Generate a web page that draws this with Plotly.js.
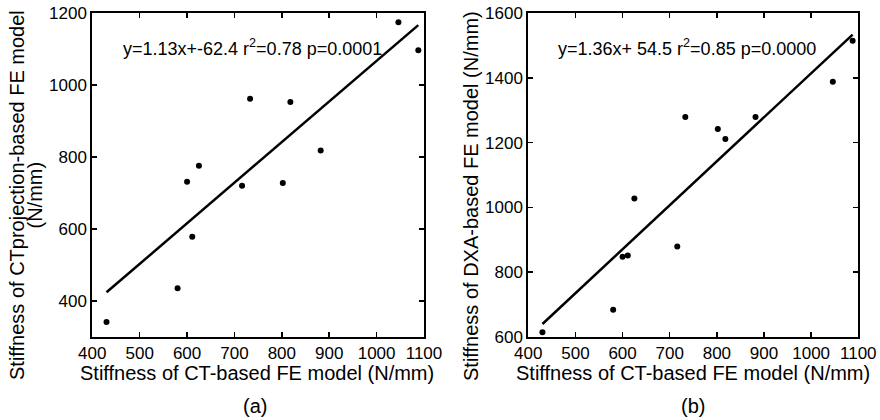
<!DOCTYPE html>
<html>
<head>
<meta charset="utf-8">
<script src="https://cdn.plot.ly/plotly-3.0.1.min.js"></script>
<style>html,body{margin:0;padding:0;background:#fff;}#chart{width:880px;height:420px;}</style>
</head>
<body>
<div id="chart"></div>
<script>
// ---- data ----
const ctStiffness     = [430, 580, 600, 611, 625, 716, 733, 802, 818, 882, 1046, 1088];
const ctProjStiffness = [341, 435, 731, 578, 776, 720, 962, 728, 953, 818, 1175, 1097];
const dxaStiffness    = [614, 683, 847, 851, 1027, 879, 1279, 1242, 1211, 1279, 1388, 1515];
const fitA = {slope: 1.13, intercept: -62.4, label: 'y=1.13x+-62.4 r<sup>2</sup>=0.78 p=0.0001'};
const fitB = {slope: 1.36, intercept: 54.5,  label: 'y=1.36x+ 54.5 r<sup>2</sup>=0.85 p=0.0000'};
const xTicks  = [400, 500, 600, 700, 800, 900, 1000, 1100];
const yTicksA = [400, 600, 800, 1000, 1200];
const yTicksB = [600, 800, 1000, 1200, 1400, 1600];
const xTitle  = 'Stiffness of CT-based FE model (N/mm)';
const yTitleA = ['Stiffness of CTprojection-based FE model', '(N/mm)'];
const yTitleB = 'Stiffness of DXA-based FE model (N/mm)';
const panelLabels = ['(a)', '(b)'];

const xmin = Math.min(...ctStiffness), xmax = Math.max(...ctStiffness);
const fitLine = f => ({x: [xmin, xmax], y: [f.slope * xmin + f.intercept, f.slope * xmax + f.intercept]});

const FONT = 'Liberation Sans, Arial, sans-serif';
const lA = fitLine(fitA), lB = fitLine(fitB);

const traces = [
  {x: ctStiffness, y: ctProjStiffness, mode: 'markers', type: 'scatter', xaxis: 'x', yaxis: 'y',
   marker: {color: '#000', size: 6}},
  {x: lA.x, y: lA.y, mode: 'lines', type: 'scatter', xaxis: 'x', yaxis: 'y',
   line: {color: '#000', width: 2.5}},
  {x: ctStiffness, y: dxaStiffness, mode: 'markers', type: 'scatter', xaxis: 'x2', yaxis: 'y2',
   marker: {color: '#000', size: 6}},
  {x: lB.x, y: lB.y, mode: 'lines', type: 'scatter', xaxis: 'x2', yaxis: 'y2',
   line: {color: '#000', width: 2.5}}
];

const axBase = {
  showline: true, linecolor: '#000', linewidth: 2, mirror: 'ticks',
  ticks: 'inside', ticklen: 5, tickwidth: 1.5, tickcolor: '#000',
  showgrid: false, zeroline: false, tickfont: {family: FONT, size: 17, color: '#000'},
  fixedrange: true
};
const yDom = [1 - 336.7 / 420, 1 - 13.3 / 420];
const px = v => v / 880, py = v => 1 - v / 420;
const ann = (text, x, y, size, extra) => Object.assign({
  text: text, xref: 'paper', yref: 'paper', x: px(x), y: py(y), showarrow: false,
  font: {size: size, family: FONT, color: '#000'}, xanchor: 'center', yanchor: 'middle'
}, extra || {});

const layout = {
  width: 880, height: 420, showlegend: false,
  paper_bgcolor: '#fff', plot_bgcolor: '#fff',
  margin: {l: 0, r: 0, t: 0, b: 0},
  font: {family: FONT, color: '#000'},
  xaxis:  Object.assign({}, axBase, {domain: [px(92.3), px(424)], range: [400, 1100], tickvals: xTicks, anchor: 'y'}),
  yaxis:  Object.assign({}, axBase, {domain: yDom, range: [300, 1200], tickvals: yTicksA, anchor: 'x'}),
  xaxis2: Object.assign({}, axBase, {domain: [px(528.3), px(858.3)], range: [400, 1100], tickvals: xTicks, anchor: 'y2'}),
  yaxis2: Object.assign({}, axBase, {domain: yDom, range: [600, 1600], tickvals: yTicksB, anchor: 'x2'}),
  annotations: [
    ann(fitA.label, 253, 47, 18),
    ann(fitB.label, 687, 47, 18),
    ann(xTitle, 257, 373, 20),
    ann(xTitle, 693, 373, 20),
    ann(panelLabels[0], 255, 406, 20),
    ann(panelLabels[1], 693, 406, 20),
    ann(yTitleA[0], 17, 195, 20, {textangle: -90}),
    ann(yTitleA[1], 34.5, 195, 20, {textangle: -90}),
    ann(yTitleB, 471, 196, 20, {textangle: -90})
  ]
};

Plotly.newPlot('chart', traces, layout, {staticPlot: true, displayModeBar: false});
</script>
</body>
</html>
